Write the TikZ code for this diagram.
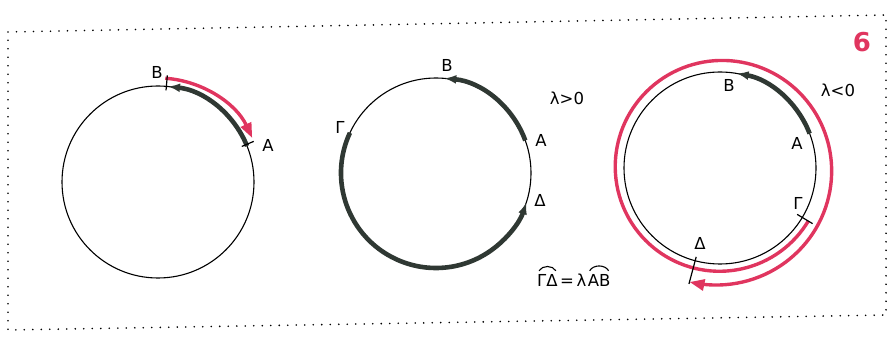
\documentclass[tikz,border=0pt]{standalone}
\usepackage{fontspec}
\setmainfont{DejaVu Sans}
\usetikzlibrary{positioning,arrows.meta}
\definecolor{arcred}{HTML}{E0355F}
\definecolor{arcdark}{HTML}{2F3833}

\begin{document}
\begin{tikzpicture}[x=1pt,y=1pt,font=\fontsize{16.5}{18}\selectfont,
  thin circ/.style={line width=1.1pt},
  dark arc/.style={arcdark,line width=4.6pt,-{Latex[length=12pt,width=9pt]}},
  red arc/.style={arcred,line width=3.4pt,-{Triangle[length=15pt,width=11pt]}},
  cut/.style={line width=1.2pt},
  lbl/.style={inner sep=0pt}]
\useasboundingbox (0,0) rectangle (890,337);
\draw[line width=1.8pt,line cap=round,dash pattern=on 0pt off 8.5pt] (8,305) -- (886,322) -- (886,22) -- (8,7) -- cycle;
\node[arcred,font=\fontsize{26}{28}\selectfont\bfseries] (num) at (862,295) {6};
\coordinate (O1) at (158,155); \coordinate (O2) at (436,164); \coordinate (O3) at (720,169);
\draw[thin circ] (O1) circle[radius=96];
\draw[dark arc] (O1) ++(22:96) arc[start angle=22,end angle=84,radius=96];
\draw[red arc] (O1) ++(86:104) arc[start angle=86,end angle=25,radius=104];
\draw[cut] (O1) ++(85:92) -- ++(85:15); \draw[cut] (O1) ++(23:91) -- ++(23:13);
\node[lbl] (B1) at (157,265) {B}; \node[lbl] (A1) at (268,192) {A};
\draw[thin circ] (O2) circle[radius=95];
\draw[dark arc] (O2) ++(20:95) arc[start angle=20,end angle=85,radius=95];
\draw[dark arc] (O2) ++(155:95) arc[start angle=155,end angle=342,radius=95];
\node[lbl] (B2) at (447,272) {B}; \node[lbl] (A2) at (541,197) {A};
\node[lbl] (D2) at (540,137) {Δ}; \node[lbl] (G2) at (340,210) {Γ};
\node[lbl] (pos) at (567,239) {λ>0};
\draw[thin circ] (O3) circle[radius=96];
\draw[dark arc] (O3) ++(21:96) arc[start angle=21,end angle=80,radius=96];
\draw[red arc] plot[domain=0:434,samples=150,variable=\s] ({720+(103+15*(\s/434)^2)*cos(-31-\s)},{169+(103+15*(\s/434)^2)*sin(-31-\s)});
\draw[cut] (O3) ++(-31:90) -- ++(-31:18); \draw[cut] (O3) ++(-105:92) -- ++(-105:28);
\node[lbl] (B3) at (729,252) {B}; \node[lbl] (A3) at (797,194) {A};
\node[lbl] (G3) at (798,134) {Γ}; \node[lbl] (D3) at (700,94) {Δ};
\node[lbl] (neg) at (838,247) {λ<0};
\node[lbl,anchor=base west] (gd) at (537,51) {ΓΔ};
\node[lbl,anchor=base west] (eq) at ([xshift=2pt]gd.base east) {=\,λ};
\node[lbl,anchor=base west] (ab) at ([xshift=1pt]eq.base east) {AB};
\draw[thin circ] ([xshift=2pt,yshift=3pt]gd.north west) to[bend left=60] ([xshift=-2pt,yshift=3pt]gd.north east);
\draw[thin circ] ([xshift=2pt,yshift=3pt]ab.north west) to[bend left=60] ([xshift=-2pt,yshift=3pt]ab.north east);
\end{tikzpicture}
\end{document}
